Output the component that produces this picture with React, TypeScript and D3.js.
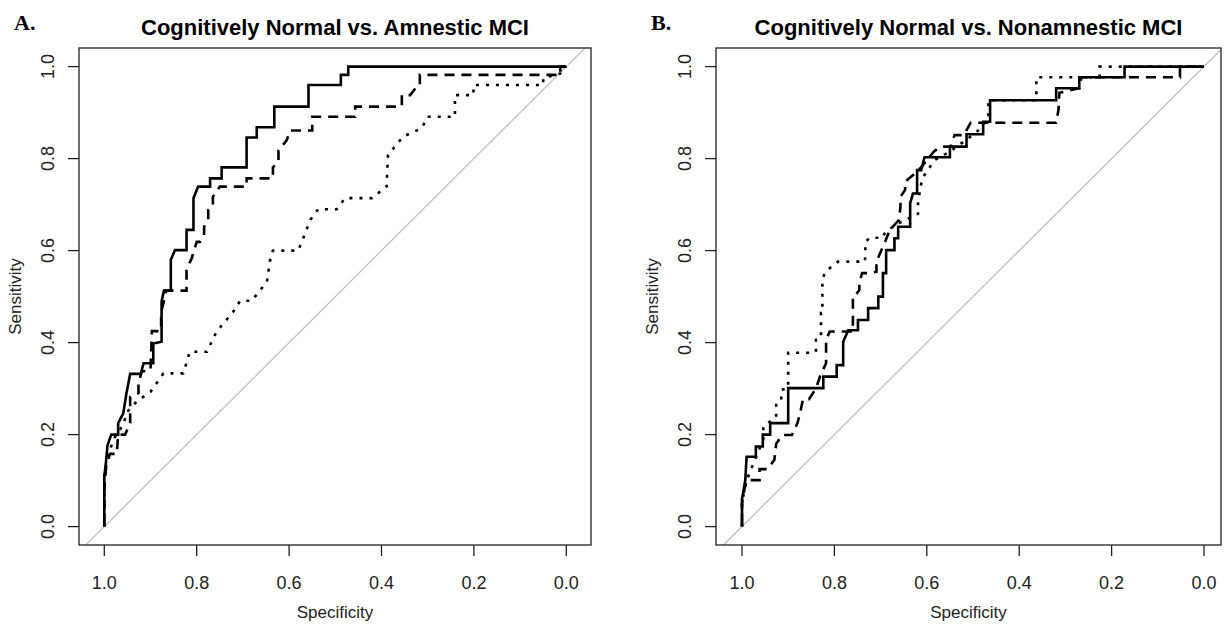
import React from "react";
import * as d3 from "d3";

type Pt = [number, number]; // [specificity, sensitivity]

const tickValues = [1.0, 0.8, 0.6, 0.4, 0.2, 0.0];
const yTickValues = [0.0, 0.2, 0.4, 0.6, 0.8, 1.0];
const titleA = "Cognitively Normal vs. Amnestic MCI";
const titleB = "Cognitively Normal vs. Nonamnestic MCI";

// panel A curves
const rocA_solid: Pt[] = [
  [1, 0], [1, 0.108], [0.997, 0.134], [0.993, 0.177], [0.985, 0.2], [0.97, 0.2],
  [0.97, 0.225], [0.959, 0.246], [0.952, 0.29], [0.944, 0.332], [0.921, 0.332],
  [0.915, 0.355], [0.894, 0.355], [0.894, 0.398], [0.876, 0.402], [0.876, 0.489],
  [0.871, 0.513], [0.856, 0.513], [0.856, 0.58], [0.847, 0.601], [0.822, 0.601],
  [0.822, 0.645], [0.807, 0.645], [0.807, 0.714], [0.797, 0.739], [0.771, 0.739],
  [0.771, 0.757], [0.746, 0.757], [0.746, 0.781], [0.692, 0.781], [0.692, 0.846],
  [0.67, 0.846], [0.67, 0.868], [0.632, 0.868], [0.632, 0.913], [0.558, 0.913],
  [0.558, 0.96], [0.488, 0.96], [0.488, 0.982], [0.472, 0.982], [0.472, 1], [0, 1],
];
const rocA_dashed: Pt[] = [
  [1, 0], [1, 0.08], [0.996, 0.13], [0.988, 0.158], [0.973, 0.158], [0.97, 0.2],
  [0.955, 0.2], [0.944, 0.225], [0.944, 0.282], [0.926, 0.29], [0.926, 0.311],
  [0.919, 0.337], [0.9, 0.34], [0.897, 0.425], [0.877, 0.425], [0.877, 0.467],
  [0.871, 0.489], [0.866, 0.513], [0.822, 0.513], [0.822, 0.558], [0.811, 0.583],
  [0.8, 0.619], [0.793, 0.619], [0.784, 0.632], [0.784, 0.652], [0.775, 0.667],
  [0.775, 0.688], [0.765, 0.696], [0.765, 0.717], [0.75, 0.739], [0.692, 0.739],
  [0.692, 0.757], [0.635, 0.757], [0.635, 0.781], [0.623, 0.793], [0.623, 0.818],
  [0.605, 0.84], [0.598, 0.861], [0.55, 0.861], [0.55, 0.891], [0.457, 0.891],
  [0.457, 0.913], [0.356, 0.913], [0.356, 0.938], [0.338, 0.938], [0.321, 0.96],
  [0.317, 0.96], [0.317, 0.982], [0.013, 0.982], [0.013, 1], [0, 1],
];
const rocA_dotted: Pt[] = [
  [1, 0], [1, 0.12], [0.99, 0.16], [0.98, 0.19], [0.96, 0.22], [0.95, 0.25],
  [0.93, 0.272], [0.9, 0.293], [0.883, 0.317], [0.872, 0.333], [0.829, 0.333],
  [0.815, 0.38], [0.778, 0.38], [0.757, 0.424], [0.721, 0.467], [0.706, 0.491],
  [0.681, 0.491], [0.648, 0.532], [0.64, 0.587], [0.635, 0.6], [0.58, 0.6],
  [0.554, 0.667], [0.537, 0.69], [0.497, 0.69], [0.479, 0.714], [0.421, 0.714],
  [0.389, 0.739], [0.386, 0.808], [0.353, 0.848], [0.313, 0.866], [0.3, 0.891],
  [0.241, 0.891], [0.241, 0.938], [0.201, 0.938], [0.201, 0.96], [0.05, 0.96],
  [0.05, 0.975], [0.013, 0.985], [0, 1],
];

// panel B curves
const rocB_solid: Pt[] = [
  [1, 0], [1, 0.06], [0.993, 0.1], [0.99, 0.152], [0.97, 0.152], [0.97, 0.174],
  [0.955, 0.174], [0.955, 0.2], [0.939, 0.2], [0.939, 0.225], [0.9, 0.225],
  [0.9, 0.301], [0.824, 0.301], [0.824, 0.326], [0.795, 0.326], [0.795, 0.351],
  [0.781, 0.351], [0.781, 0.402], [0.77, 0.427], [0.749, 0.427], [0.749, 0.449],
  [0.727, 0.449], [0.727, 0.475], [0.705, 0.475], [0.705, 0.5], [0.695, 0.5],
  [0.695, 0.551], [0.688, 0.551], [0.688, 0.601], [0.67, 0.601], [0.67, 0.627],
  [0.662, 0.627], [0.662, 0.652], [0.636, 0.652], [0.636, 0.703], [0.63, 0.724],
  [0.621, 0.724], [0.621, 0.775], [0.612, 0.775], [0.605, 0.803], [0.55, 0.803],
  [0.55, 0.826], [0.514, 0.826], [0.514, 0.853], [0.478, 0.853], [0.478, 0.88],
  [0.463, 0.88], [0.463, 0.927], [0.32, 0.927], [0.32, 0.953], [0.27, 0.953],
  [0.27, 0.977], [0.172, 0.977], [0.172, 1], [0, 1],
];
const rocB_dashed: Pt[] = [
  [1, 0], [1, 0.05], [0.995, 0.08], [0.99, 0.101], [0.962, 0.101], [0.962, 0.125],
  [0.945, 0.125], [0.93, 0.145], [0.926, 0.18], [0.913, 0.199], [0.892, 0.199],
  [0.88, 0.225], [0.874, 0.248], [0.868, 0.277], [0.855, 0.277], [0.84, 0.3],
  [0.83, 0.33], [0.818, 0.355], [0.818, 0.406], [0.81, 0.424], [0.76, 0.424],
  [0.76, 0.5], [0.757, 0.5], [0.746, 0.514], [0.746, 0.53], [0.74, 0.551],
  [0.723, 0.551], [0.709, 0.554], [0.709, 0.576], [0.69, 0.62], [0.68, 0.645],
  [0.66, 0.667], [0.657, 0.696], [0.657, 0.717], [0.647, 0.732], [0.647, 0.75],
  [0.62, 0.772], [0.605, 0.79], [0.585, 0.815], [0.57, 0.826], [0.548, 0.826],
  [0.54, 0.851], [0.52, 0.851], [0.505, 0.878], [0.32, 0.878], [0.315, 0.906],
  [0.313, 0.943], [0.27, 0.953], [0.265, 0.977], [0.052, 0.977], [0.052, 1], [0, 1],
];
const rocB_dotted: Pt[] = [
  [1, 0], [1, 0.05], [0.995, 0.08], [0.987, 0.108], [0.965, 0.163], [0.954, 0.188],
  [0.954, 0.217], [0.944, 0.225], [0.926, 0.239], [0.926, 0.268], [0.915, 0.275],
  [0.915, 0.297], [0.9, 0.301], [0.9, 0.378], [0.847, 0.378], [0.84, 0.38],
  [0.84, 0.406], [0.829, 0.41], [0.829, 0.464], [0.826, 0.464], [0.826, 0.536],
  [0.82, 0.554], [0.792, 0.576], [0.734, 0.576], [0.733, 0.594], [0.733, 0.619],
  [0.723, 0.628], [0.695, 0.628], [0.69, 0.641], [0.66, 0.66], [0.619, 0.68],
  [0.619, 0.706], [0.61, 0.757], [0.583, 0.797], [0.55, 0.815], [0.513, 0.842],
  [0.49, 0.86], [0.467, 0.888], [0.467, 0.927], [0.363, 0.927], [0.363, 0.977],
  [0.226, 0.977], [0.226, 1], [0, 1],
];

const W = 1225;
const H = 626;
const FONT = "'Liberation Sans', Arial, sans-serif";

type PanelProps = {
  id: string;
  letter: string;
  title: string;
  box: { left: number; top: number; right: number; bottom: number };
  xRange: [number, number];
  letterX: number;
  curves: { data: Pt[]; dash: string }[];
};

const Panel = ({ id, letter, title, box, xRange, letterX, curves }: PanelProps) => {
  const x = d3.scaleLinear().domain([1, 0]).range(xRange);
  const y = d3.scaleLinear().domain([0, 1]).range([526.6, 66.6]);
  const line = d3
    .line<Pt>()
    .x((d) => x(d[0]))
    .y((d) => y(d[1]));
  const cx = (box.left + box.right) / 2;
  const cy = (box.top + box.bottom) / 2;
  // chance line, clipped to the box
  const diag: Pt[] = [
    [1.2, -0.2],
    [-0.2, 1.2],
  ];
  return (
    <g>
      <defs>
        <clipPath id={`clip-${id}`}>
          <rect x={box.left} y={box.top} width={box.right - box.left} height={box.bottom - box.top} />
        </clipPath>
      </defs>
      <text x={letterX} y={30} fontFamily="'Liberation Serif', 'Times New Roman', serif" fontWeight="bold" fontSize={22}>
        {letter}
      </text>
      <text x={cx} y={35} textAnchor="middle" fontFamily={FONT} fontWeight="bold" fontSize={22}>
        {title}
      </text>
      <g clipPath={`url(#clip-${id})`}>
        <path d={line(diag) || ""} stroke="#bdbdbd" strokeWidth={1.2} fill="none" />
        {curves.map((c, i) => (
          <path
            key={i}
            d={line(c.data) || ""}
            fill="none"
            stroke="#000"
            strokeWidth={2.6}
            strokeDasharray={c.dash}
            strokeLinejoin="miter"
          />
        ))}
      </g>
      <rect
        x={box.left}
        y={box.top}
        width={box.right - box.left}
        height={box.bottom - box.top}
        fill="none"
        stroke="#222"
        strokeWidth={1.3}
      />
      {tickValues.map((t) => (
        <g key={`x${t}`}>
          <line x1={x(t)} x2={x(t)} y1={box.bottom} y2={box.bottom + 11} stroke="#222" strokeWidth={1.3} />
          <text x={x(t)} y={589} textAnchor="middle" fontFamily={FONT} fontSize={18} fill="#222">
            {t.toFixed(1)}
          </text>
        </g>
      ))}
      {yTickValues.map((t) => (
        <g key={`y${t}`}>
          <line x1={box.left - 11} x2={box.left} y1={y(t)} y2={y(t)} stroke="#222" strokeWidth={1.3} />
          <text
            transform={`translate(${box.left - 25},${y(t)}) rotate(-90)`}
            textAnchor="middle"
            fontFamily={FONT}
            fontSize={18}
            fill="#222"
          >
            {t.toFixed(1)}
          </text>
        </g>
      ))}
      <text x={cx} y={618} textAnchor="middle" fontFamily={FONT} fontSize={17} fill="#222">
        Specificity
      </text>
      <text
        transform={`translate(${box.left - 58},${cy}) rotate(-90)`}
        textAnchor="middle"
        fontFamily={FONT}
        fontSize={17}
        fill="#222"
      >
        Sensitivity
      </text>
    </g>
  );
};

export default function App() {
  return (
    <svg
      width={W}
      height={H}
      viewBox={`0 0 ${W} ${H}`}
      style={{ position: "absolute", left: 0, top: 0, background: "#fff" }}
    >
      <rect width={W} height={H} fill="#fff" />
      <Panel
        id="a"
        letter="A."
        title={titleA}
        box={{ left: 79, top: 48, right: 591, bottom: 545 }}
        xRange={[104.3, 566.3]}
        letterX={14}
        curves={[
          { data: rocA_dotted, dash: "3,7" },
          { data: rocA_dashed, dash: "10,7" },
          { data: rocA_solid, dash: "none" },
        ]}
      />
      <Panel
        id="b"
        letter="B."
        title={titleB}
        box={{ left: 716, top: 48, right: 1221, bottom: 545 }}
        xRange={[742, 1204]}
        letterX={651}
        curves={[
          { data: rocB_dotted, dash: "3,7" },
          { data: rocB_dashed, dash: "10,7" },
          { data: rocB_solid, dash: "none" },
        ]}
      />
    </svg>
  );
}
